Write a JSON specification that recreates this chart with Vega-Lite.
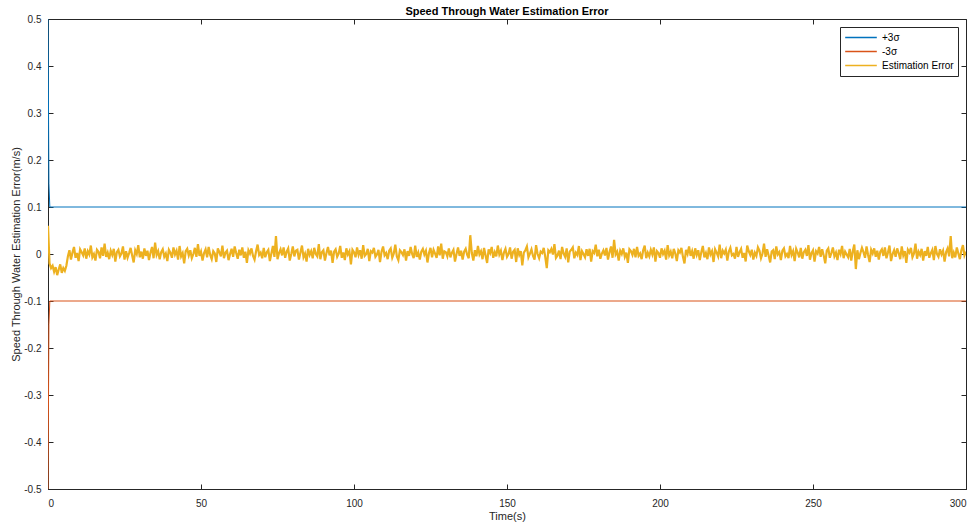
{
"$schema": "https://vega.github.io/schema/vega-lite/v6.json",
"width": 918, "height": 470,
"autosize": {"type": "none"},
"padding": {"left": 48, "top": 19, "right": 14, "bottom": 35},
"background": "white",
"title": {"text": "Speed Through Water Estimation Error", "font": "Liberation Sans", "fontSize": 11, "fontWeight": "bold", "color": "#000000", "anchor": "middle", "offset": -3},
"config": {
 "view": {"stroke": "#262626", "strokeWidth": 1},
 "axis": {"grid": false, "labelFont": "Liberation Sans", "labelFontSize": 10, "labelColor": "#262626", "titleFont": "Liberation Sans", "titleFontSize": 11, "titleFontWeight": "normal", "titleColor": "#262626", "domainColor": "#262626", "tickColor": "#262626", "tickSize": -5, "labelPadding": 12},
 "legend": {"labelFont": "Liberation Sans", "labelFontSize": 10, "labelColor": "#000000"}
},
"datasets": {
"sig": [
{"t":0,"v":0.5,"s":"+3σ"},{"t":0.3,"v":0.15,"s":"+3σ"},{"t":0.6,"v":0.1,"s":"+3σ"},{"t":300,"v":0.1,"s":"+3σ"},
{"t":0,"v":-0.5,"s":"-3σ"},{"t":0.3,"v":-0.15,"s":"-3σ"},{"t":0.6,"v":-0.1,"s":"-3σ"},{"t":300,"v":-0.1,"s":"-3σ"}
],
"err": [
{"t":0,"v":0.06},{"t":0.5,"v":-0.02},{"t":1,"v":-0.03},{"t":1.5,"v":-0.025},{"t":2,"v":-0.038},{"t":2.5,"v":-0.028},{"t":3,"v":-0.045},{"t":3.5,"v":-0.033},{"t":4,"v":-0.022},{"t":4.5,"v":-0.04},{"t":5,"v":-0.03},{"t":5.5,"v":-0.036},{"t":6,"v":-0.025},
{"t":6.5,"v":-0.005},{"t":7,"v":0.008},{"t":7.5,"v":-0.012},{"t":8,"v":0.003},{"t":8.5,"v":0.015},{"t":9,"v":-0.008},{"t":9.5,"v":0.002},{"t":10,"v":-0.015},{"t":10.5,"v":0.01},{"t":11,"v":0.004},
{"t":11.5,"v":-0.003},{"t":12,"v":0.012},{"t":12.5,"v":-0.01},{"t":13,"v":0.006},{"t":13.5,"v":-0.001},{"t":14,"v":0.018},{"t":14.5,"v":-0.007},{"t":15,"v":0},{"t":15.5,"v":-0.014},{"t":16,"v":0.009},
{"t":16.5,"v":0.005},{"t":17,"v":-0.009},{"t":17.5,"v":0.014},{"t":18,"v":-0.004},{"t":18.5,"v":0.022},{"t":19,"v":-0.006},{"t":19.5,"v":0.003},{"t":20,"v":-0.011},{"t":20.5,"v":0.007},{"t":21,"v":-0.002},
{"t":21.5,"v":0.011},{"t":22,"v":-0.016},{"t":22.5,"v":0.004},{"t":23,"v":0.009},{"t":23.5,"v":-0.005},{"t":24,"v":0.001},{"t":24.5,"v":0.016},{"t":25,"v":-0.012},{"t":25.5,"v":0.006},{"t":26,"v":-0.008},
{"t":26.5,"v":0.002},{"t":27,"v":0.013},{"t":27.5,"v":-0.003},{"t":28,"v":-0.018},{"t":28.5,"v":0.008},{"t":29,"v":0},{"t":29.5,"v":0.019},{"t":30,"v":-0.007},{"t":30.5,"v":0.005},{"t":31,"v":-0.01},
{"t":31.5,"v":0.012},{"t":32,"v":-0.004},{"t":32.5,"v":0.007},{"t":33,"v":-0.013},{"t":33.5,"v":0.003},{"t":34,"v":0.015},{"t":34.5,"v":-0.009},{"t":35,"v":0.024},{"t":35.5,"v":-0.002},{"t":36,"v":0.006},
{"t":36.5,"v":-0.011},{"t":37,"v":0.004},{"t":37.5,"v":0.01},{"t":38,"v":-0.006},{"t":38.5,"v":0.001},{"t":39,"v":-0.015},{"t":39.5,"v":0.009},{"t":40,"v":0.003},{"t":40.5,"v":-0.008},{"t":41,"v":0.014},
{"t":41.5,"v":-0.001},{"t":42,"v":0.007},{"t":42.5,"v":-0.012},{"t":43,"v":0.017},{"t":43.5,"v":-0.005},{"t":44,"v":0.002},{"t":44.5,"v":-0.02},{"t":45,"v":0.006},{"t":45.5,"v":0.011},{"t":46,"v":-0.003},
{"t":46.5,"v":0.008},{"t":47,"v":-0.009},{"t":47.5,"v":0},{"t":48,"v":0.013},{"t":48.5,"v":-0.006},{"t":49,"v":0.021},{"t":49.5,"v":-0.004},{"t":50,"v":0.005},{"t":50.5,"v":-0.014},{"t":51,"v":0.002},
{"t":51.5,"v":0.01},{"t":52,"v":-0.007},{"t":52.5,"v":0.015},{"t":53,"v":-0.002},{"t":53.5,"v":-0.011},{"t":54,"v":0.006},{"t":54.5,"v":0.001},{"t":55,"v":-0.017},{"t":55.5,"v":0.012},{"t":56,"v":0.004},
{"t":56.5,"v":-0.005},{"t":57,"v":0.018},{"t":57.5,"v":-0.009},{"t":58,"v":0.003},{"t":58.5,"v":0.007},{"t":59,"v":-0.013},{"t":59.5,"v":0},{"t":60,"v":0.011},{"t":60.5,"v":-0.006},{"t":61,"v":0.016},
{"t":61.5,"v":0.002},{"t":62,"v":-0.01},{"t":62.5,"v":0.009},{"t":63,"v":-0.003},{"t":63.5,"v":0.014},{"t":64,"v":-0.008},{"t":64.5,"v":0.005},{"t":65,"v":-0.019},{"t":65.5,"v":0.008},{"t":66,"v":0.001},
{"t":66.5,"v":0.012},{"t":67,"v":-0.004},{"t":67.5,"v":-0.012},{"t":68,"v":0.006},{"t":68.5,"v":0.02},{"t":69,"v":-0.002},{"t":69.5,"v":0.003},{"t":70,"v":-0.009},{"t":70.5,"v":0.013},{"t":71,"v":-0.007},
{"t":71.5,"v":0.004},{"t":72,"v":0.009},{"t":72.5,"v":-0.015},{"t":73,"v":0.001},{"t":73.5,"v":0.017},{"t":74,"v":-0.006},{"t":74.5,"v":0.038},{"t":75,"v":-0.011},{"t":75.5,"v":0.002},{"t":76,"v":0.01},
{"t":76.5,"v":-0.003},{"t":77,"v":0.014},{"t":77.5,"v":-0.008},{"t":78,"v":0.005},{"t":78.5,"v":0.012},{"t":79,"v":-0.014},{"t":79.5,"v":0},{"t":80,"v":0.016},{"t":80.5,"v":-0.005},{"t":81,"v":0.007},
{"t":81.5,"v":0.009},{"t":82,"v":-0.012},{"t":82.5,"v":0.003},{"t":83,"v":0.018},{"t":83.5,"v":-0.007},{"t":84,"v":0.001},{"t":84.5,"v":-0.016},{"t":85,"v":0.011},{"t":85.5,"v":-0.002},{"t":86,"v":0.006},
{"t":86.5,"v":-0.009},{"t":87,"v":0.013},{"t":87.5,"v":0},{"t":88,"v":-0.005},{"t":88.5,"v":0.021},{"t":89,"v":-0.011},{"t":89.5,"v":0.004},{"t":90,"v":0.008},{"t":90.5,"v":-0.014},{"t":91,"v":0.002},
{"t":91.5,"v":0.015},{"t":92,"v":-0.003},{"t":92.5,"v":0.007},{"t":93,"v":-0.019},{"t":93.5,"v":0.005},{"t":94,"v":0.01},{"t":94.5,"v":-0.006},{"t":95,"v":0.001},{"t":95.5,"v":0.017},{"t":96,"v":-0.008},
{"t":96.5,"v":0.003},{"t":97,"v":-0.013},{"t":97.5,"v":0.012},{"t":98,"v":-0.001},{"t":98.5,"v":0.006},{"t":99,"v":-0.022},{"t":99.5,"v":0.009},{"t":100,"v":0.004},{"t":100.5,"v":-0.007},{"t":101,"v":0.014},
{"t":101.5,"v":-0.002},{"t":102,"v":0.008},{"t":102.5,"v":-0.01},{"t":103,"v":0.019},{"t":103.5,"v":-0.004},{"t":104,"v":0},{"t":104.5,"v":0.011},{"t":105,"v":-0.015},{"t":105.5,"v":0.006},{"t":106,"v":0.003},
{"t":106.5,"v":0.013},{"t":107,"v":-0.006},{"t":107.5,"v":-0.001},{"t":108,"v":0.009},{"t":108.5,"v":-0.017},{"t":109,"v":0.005},{"t":109.5,"v":0.016},{"t":110,"v":-0.003},{"t":110.5,"v":0.002},{"t":111,"v":-0.011},
{"t":111.5,"v":0.007},{"t":112,"v":0.012},{"t":112.5,"v":-0.008},{"t":113,"v":0.001},{"t":113.5,"v":0.02},{"t":114,"v":-0.005},{"t":114.5,"v":-0.013},{"t":115,"v":0.008},{"t":115.5,"v":0.004},{"t":116,"v":-0.002},
{"t":116.5,"v":0.01},{"t":117,"v":-0.014},{"t":117.5,"v":0.006},{"t":118,"v":-0.004},{"t":118.5,"v":0.015},{"t":119,"v":0},{"t":119.5,"v":-0.009},{"t":120,"v":0.018},{"t":120.5,"v":-0.006},{"t":121,"v":0.003},
{"t":121.5,"v":-0.012},{"t":122,"v":0.005},{"t":122.5,"v":0.011},{"t":123,"v":-0.001},{"t":123.5,"v":0.007},{"t":124,"v":-0.018},{"t":124.5,"v":0.002},{"t":125,"v":0.013},{"t":125.5,"v":-0.007},{"t":126,"v":0.009},
{"t":126.5,"v":0.001},{"t":127,"v":-0.008},{"t":127.5,"v":0.016},{"t":128,"v":-0.003},{"t":128.5,"v":0.022},{"t":129,"v":-0.01},{"t":129.5,"v":0.006},{"t":130,"v":0.004},{"t":130.5,"v":-0.005},{"t":131,"v":0.012},
{"t":131.5,"v":-0.007},{"t":132,"v":0.003},{"t":132.5,"v":0.009},{"t":133,"v":-0.016},{"t":133.5,"v":0},{"t":134,"v":0.014},{"t":134.5,"v":-0.004},{"t":135,"v":0.007},{"t":135.5,"v":-0.012},{"t":136,"v":0.005},
{"t":136.5,"v":0.011},{"t":137,"v":-0.002},{"t":137.5,"v":-0.009},{"t":138,"v":0.04},{"t":138.5,"v":0.002},{"t":139,"v":-0.014},{"t":139.5,"v":0.008},{"t":140,"v":-0.005},{"t":140.5,"v":0.017},{"t":141,"v":-0.001},
{"t":141.5,"v":0.006},{"t":142,"v":-0.011},{"t":142.5,"v":0.013},{"t":143,"v":-0.003},{"t":143.5,"v":-0.019},{"t":144,"v":0.01},{"t":144.5,"v":0.002},{"t":145,"v":0.015},{"t":145.5,"v":-0.008},{"t":146,"v":0.004},
{"t":146.5,"v":-0.005},{"t":147,"v":0.018},{"t":147.5,"v":-0.001},{"t":148,"v":0.007},{"t":148.5,"v":-0.013},{"t":149,"v":0.003},{"t":149.5,"v":0.011},{"t":150,"v":-0.006},{"t":150.5,"v":0},{"t":151,"v":0.014},
{"t":151.5,"v":-0.01},{"t":152,"v":0.005},{"t":152.5,"v":0.009},{"t":153,"v":-0.017},{"t":153.5,"v":0.012},{"t":154,"v":-0.002},{"t":154.5,"v":0.006},{"t":155,"v":-0.024},{"t":155.5,"v":0.003},{"t":156,"v":0.008},
{"t":156.5,"v":0.016},{"t":157,"v":-0.007},{"t":157.5,"v":0.001},{"t":158,"v":0.01},{"t":158.5,"v":-0.004},{"t":159,"v":-0.012},{"t":159.5,"v":0.019},{"t":160,"v":0},{"t":160.5,"v":-0.009},{"t":161,"v":0.005},
{"t":161.5,"v":0.002},{"t":162,"v":0.013},{"t":162.5,"v":-0.006},{"t":163,"v":-0.03},{"t":163.5,"v":0.008},{"t":164,"v":0.004},{"t":164.5,"v":0.011},{"t":165,"v":-0.001},{"t":165.5,"v":0.021},{"t":166,"v":-0.008},
{"t":166.5,"v":-0.003},{"t":167,"v":0.007},{"t":167.5,"v":-0.011},{"t":168,"v":0.015},{"t":168.5,"v":0.001},{"t":169,"v":-0.006},{"t":169.5,"v":0.012},{"t":170,"v":-0.018},{"t":170.5,"v":0.005},{"t":171,"v":0.009},
{"t":171.5,"v":0.014},{"t":172,"v":-0.009},{"t":172.5,"v":0.003},{"t":173,"v":-0.002},{"t":173.5,"v":0.017},{"t":174,"v":-0.013},{"t":174.5,"v":0.006},{"t":175,"v":0},{"t":175.5,"v":-0.007},{"t":176,"v":0.01},
{"t":176.5,"v":-0.004},{"t":177,"v":0.011},{"t":177.5,"v":-0.016},{"t":178,"v":0.006},{"t":178.5,"v":0.002},{"t":179,"v":0.02},{"t":179.5,"v":-0.005},{"t":180,"v":0.009},{"t":180.5,"v":-0.01},{"t":181,"v":0.001},
{"t":181.5,"v":0.008},{"t":182,"v":-0.003},{"t":182.5,"v":0.013},{"t":183,"v":-0.012},{"t":183.5,"v":0.004},{"t":184,"v":0.016},{"t":184.5,"v":-0.008},{"t":185,"v":0.03},{"t":185.5,"v":-0.001},{"t":186,"v":0.005},
{"t":186.5,"v":-0.014},{"t":187,"v":0.007},{"t":187.5,"v":0},{"t":188,"v":0.012},{"t":188.5,"v":-0.006},{"t":189,"v":0.003},{"t":189.5,"v":-0.019},{"t":190,"v":0.01},{"t":190.5,"v":0.006},{"t":191,"v":-0.002},
{"t":191.5,"v":0.011},{"t":192,"v":-0.007},{"t":192.5,"v":0.015},{"t":193,"v":-0.004},{"t":193.5,"v":0.001},{"t":194,"v":-0.011},{"t":194.5,"v":0.008},{"t":195,"v":0.018},{"t":195.5,"v":-0.009},{"t":196,"v":0.003},
{"t":196.5,"v":-0.005},{"t":197,"v":0.009},{"t":197.5,"v":-0.001},{"t":198,"v":0.014},{"t":198.5,"v":-0.016},{"t":199,"v":0.006},{"t":199.5,"v":0.002},{"t":200,"v":-0.008},{"t":200.5,"v":0.012},{"t":201,"v":0},
{"t":201.5,"v":0.007},{"t":202,"v":-0.012},{"t":202.5,"v":0.019},{"t":203,"v":-0.003},{"t":203.5,"v":0.005},{"t":204,"v":-0.009},{"t":204.5,"v":0.011},{"t":205,"v":0.001},{"t":205.5,"v":-0.015},{"t":206,"v":0.008},
{"t":206.5,"v":0.003},{"t":207,"v":0.013},{"t":207.5,"v":-0.006},{"t":208,"v":-0.02},{"t":208.5,"v":0.009},{"t":209,"v":0},{"t":209.5,"v":0.016},{"t":210,"v":-0.004},{"t":210.5,"v":0.006},{"t":211,"v":-0.01},
{"t":211.5,"v":0.012},{"t":212,"v":-0.002},{"t":212.5,"v":0.008},{"t":213,"v":-0.013},{"t":213.5,"v":0.004},{"t":214,"v":0.017},{"t":214.5,"v":-0.007},{"t":215,"v":0.002},{"t":215.5,"v":-0.011},{"t":216,"v":0.014},
{"t":216.5,"v":-0.001},{"t":217,"v":0.006},{"t":217.5,"v":-0.017},{"t":218,"v":0.01},{"t":218.5,"v":0.003},{"t":219,"v":-0.005},{"t":219.5,"v":0.02},{"t":220,"v":-0.009},{"t":220.5,"v":0.007},{"t":221,"v":0.001},
{"t":221.5,"v":0.009},{"t":222,"v":-0.014},{"t":222.5,"v":0.005},{"t":223,"v":0.013},{"t":223.5,"v":-0.003},{"t":224,"v":0},{"t":224.5,"v":-0.01},{"t":225,"v":0.015},{"t":225.5,"v":-0.006},{"t":226,"v":0.004},
{"t":226.5,"v":0.011},{"t":227,"v":-0.008},{"t":227.5,"v":0.002},{"t":228,"v":-0.016},{"t":228.5,"v":0.018},{"t":229,"v":0.006},{"t":229.5,"v":-0.002},{"t":230,"v":0.009},{"t":230.5,"v":-0.012},{"t":231,"v":0.003},
{"t":231.5,"v":-0.004},{"t":232,"v":0.014},{"t":232.5,"v":0.007},{"t":233,"v":-0.009},{"t":233.5,"v":0.001},{"t":234,"v":0.022},{"t":234.5,"v":-0.006},{"t":235,"v":0.01},{"t":235.5,"v":-0.003},{"t":236,"v":-0.018},
{"t":236.5,"v":0.005},{"t":237,"v":0.008},{"t":237.5,"v":-0.011},{"t":238,"v":0.016},{"t":238.5,"v":-0.001},{"t":239,"v":0.004},{"t":239.5,"v":-0.013},{"t":240,"v":0.007},{"t":240.5,"v":0.012},{"t":241,"v":-0.005},
{"t":241.5,"v":0},{"t":242,"v":-0.009},{"t":242.5,"v":0.017},{"t":243,"v":-0.002},{"t":243.5,"v":0.006},{"t":244,"v":-0.015},{"t":244.5,"v":0.011},{"t":245,"v":0.003},{"t":245.5,"v":-0.007},{"t":246,"v":0.013},
{"t":246.5,"v":-0.01},{"t":247,"v":0.004},{"t":247.5,"v":0.009},{"t":248,"v":-0.004},{"t":248.5,"v":0.019},{"t":249,"v":-0.012},{"t":249.5,"v":0.002},{"t":250,"v":0.008},{"t":250.5,"v":-0.016},{"t":251,"v":0.006},
{"t":251.5,"v":0.001},{"t":252,"v":0.015},{"t":252.5,"v":-0.006},{"t":253,"v":0.01},{"t":253.5,"v":-0.003},{"t":254,"v":-0.02},{"t":254.5,"v":0.007},{"t":255,"v":0.012},{"t":255.5,"v":-0.008},{"t":256,"v":0.002},
{"t":256.5,"v":0.014},{"t":257,"v":-0.005},{"t":257.5,"v":0.003},{"t":258,"v":-0.013},{"t":258.5,"v":0.009},{"t":259,"v":0},{"t":259.5,"v":0.017},{"t":260,"v":-0.009},{"t":260.5,"v":0.005},{"t":261,"v":-0.001},
{"t":261.5,"v":-0.007},{"t":262,"v":0.011},{"t":262.5,"v":-0.014},{"t":263,"v":0.006},{"t":263.5,"v":0.02},{"t":264,"v":-0.032},{"t":264.5,"v":0.008},{"t":265,"v":-0.011},{"t":265.5,"v":0.002},{"t":266,"v":0.013},
{"t":266.5,"v":0.004},{"t":267,"v":-0.008},{"t":267.5,"v":0.016},{"t":268,"v":-0.002},{"t":268.5,"v":-0.017},{"t":269,"v":0.009},{"t":269.5,"v":0.001},{"t":270,"v":0.012},{"t":270.5,"v":-0.006},{"t":271,"v":0.007},
{"t":271.5,"v":-0.012},{"t":272,"v":0.005},{"t":272.5,"v":0.01},{"t":273,"v":-0.004},{"t":273.5,"v":0.014},{"t":274,"v":-0.009},{"t":274.5,"v":0.003},{"t":275,"v":0.018},{"t":275.5,"v":-0.015},{"t":276,"v":0},
{"t":276.5,"v":0.008},{"t":277,"v":-0.006},{"t":277.5,"v":0.012},{"t":278,"v":0.002},{"t":278.5,"v":-0.011},{"t":279,"v":0.016},{"t":279.5,"v":-0.003},{"t":280,"v":0.006},{"t":280.5,"v":-0.019},{"t":281,"v":0.009},
{"t":281.5,"v":0.003},{"t":282,"v":0.013},{"t":282.5,"v":-0.007},{"t":283,"v":0.001},{"t":283.5,"v":0.022},{"t":284,"v":-0.01},{"t":284.5,"v":0.005},{"t":285,"v":-0.002},{"t":285.5,"v":0.011},{"t":286,"v":-0.014},
{"t":286.5,"v":0.006},{"t":287,"v":-0.004},{"t":287.5,"v":0.015},{"t":288,"v":-0.008},{"t":288.5,"v":0.002},{"t":289,"v":0.009},{"t":289.5,"v":-0.013},{"t":290,"v":0.017},{"t":290.5,"v":0},{"t":291,"v":-0.006},
{"t":291.5,"v":0.01},{"t":292,"v":-0.001},{"t":292.5,"v":0.007},{"t":293,"v":-0.016},{"t":293.5,"v":0.004},{"t":294,"v":0.012},{"t":294.5,"v":-0.005},{"t":295,"v":0.038},{"t":295.5,"v":-0.009},{"t":296,"v":0.003},
{"t":296.5,"v":-0.007},{"t":297,"v":0.014},{"t":297.5,"v":0.001},{"t":298,"v":-0.011},{"t":298.5,"v":0.008},{"t":299,"v":0.019},{"t":299.5,"v":-0.003},{"t":300,"v":0.005}
],
"frame": [{"t": 0, "v": 0}]
},
"layer": [
 {
  "layer": [
   {
    "data": {"name": "sig"},
    "mark": {"type": "line", "strokeWidth": 1, "clip": true},
    "encoding": {
     "x": {"field": "t", "type": "quantitative", "scale": {"domain": [0, 300], "nice": false, "zero": false}, "axis": {"orient": "bottom", "values": [0, 50, 100, 150, 200, 250, 300], "title": "Time(s)", "titlePadding": 2, "labelPadding": 14}},
     "y": {"field": "v", "type": "quantitative", "scale": {"domain": [-0.5, 0.5], "nice": false, "zero": false}, "axis": {"orient": "left", "values": [-0.5, -0.4, -0.3, -0.2, -0.1, 0, 0.1, 0.2, 0.3, 0.4, 0.5], "labelExpr": "'' + datum.value", "title": "Speed Through Water Estimation Error(m/s)", "titlePadding": 2}},
     "color": {"field": "s", "type": "nominal", "scale": {"domain": ["+3σ", "-3σ", "Estimation Error"], "range": ["#0072BD", "#D95319", "#EDB120"]},
      "legend": {"title": null, "orient": "top-right", "offset": 8, "fillColor": "white", "strokeColor": "#262626", "padding": 4, "symbolType": "stroke", "symbolSize": 1000, "symbolStrokeWidth": 1.5, "clipHeight": 13, "rowPadding": 1, "labelOffset": 4}}
    }
   },
   {
    "data": {"name": "err"},
    "mark": {"type": "line", "strokeWidth": 2.2, "clip": true},
    "encoding": {
     "x": {"field": "t", "type": "quantitative"},
     "y": {"field": "v", "type": "quantitative"},
     "color": {"datum": "Estimation Error"}
    }
   }
  ]
 },
 {
  "data": {"name": "frame"},
  "mark": {"type": "point", "opacity": 0},
  "encoding": {
   "x": {"field": "t", "type": "quantitative", "scale": {"domain": [0, 300], "nice": false, "zero": false}, "axis": {"orient": "top", "values": [0, 50, 100, 150, 200, 250, 300], "labels": false, "title": null, "domain": false}},
   "y": {"field": "v", "type": "quantitative", "scale": {"domain": [-0.5, 0.5], "nice": false, "zero": false}, "axis": {"orient": "right", "values": [-0.5, -0.4, -0.3, -0.2, -0.1, 0, 0.1, 0.2, 0.3, 0.4, 0.5], "labels": false, "title": null, "domain": false}}
  }
 }
],
"resolve": {"scale": {"x": "independent", "y": "independent"}}
}
